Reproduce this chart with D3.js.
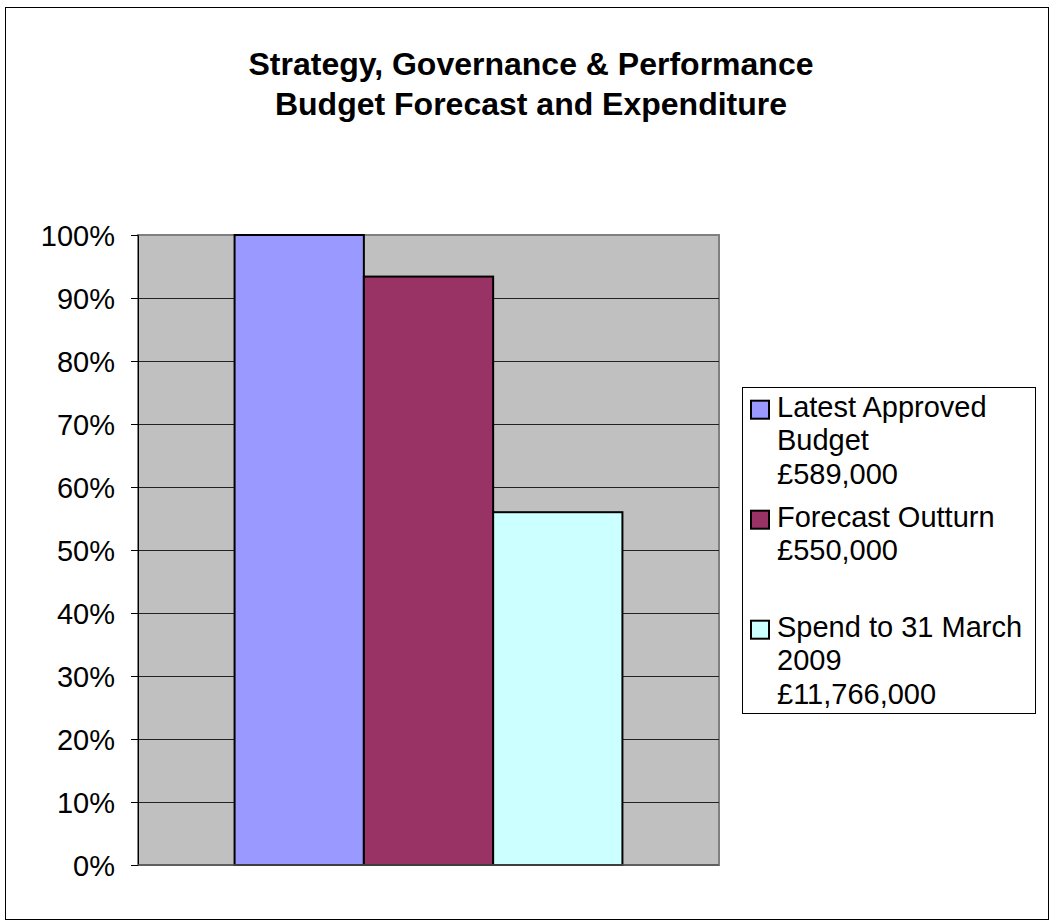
<!DOCTYPE html>
<html>
<head>
<meta charset="utf-8">
<script src="https://cdn.jsdelivr.net/npm/d3@7"></script>
<style>
  body { margin: 0; background: #fff; }
  svg text { font-family: "Liberation Sans", Arial, sans-serif; fill: #000; }
</style>
</head>
<body>
<svg id="chart" width="1053" height="922"></svg>
<script>
// chart data
var titleLines = ['Strategy, Governance & Performance', 'Budget Forecast and Expenditure'];
var categories = ['Budget'];
var seriesNames = [
  ['Latest Approved', 'Budget', '£589,000'],
  ['Forecast Outturn', '£550,000', ''],
  ['Spend to 31 March', '2009', '£11,766,000']
];
var seriesValues = [1.00, 0.934, 0.56];
var seriesColors = ['#9999ff', '#993366', '#ccffff'];
var yTicks = [0, 0.1, 0.2, 0.3, 0.4, 0.5, 0.6, 0.7, 0.8, 0.9, 1.0];

var svg = d3.select('#chart');

// outer frame
svg.append('rect')
  .attr('x', 5.5).attr('y', 7.5)
  .attr('width', 1043).attr('height', 912)
  .style('fill', '#fff').style('stroke', '#000').style('stroke-width', 1);

// title
svg.append('text')
  .attr('text-anchor', 'middle')
  .style('font-size', '32px').style('font-weight', 'bold')
  .selectAll('tspan')
  .data(titleLines)
  .enter().append('tspan')
  .attr('x', 531)
  .attr('y', function(d, i) { return 75 + i * 40; })
  .text(function(d) { return d; });

var plot = { left: 138, top: 235, right: 719, bottom: 865 };

var x = d3.scaleBand()
  .domain(categories)
  .range([plot.left, plot.right])
  .paddingOuter(0.249)
  .paddingInner(0);

var xs = d3.scaleBand()
  .domain(d3.range(seriesValues.length))
  .range([0, x.bandwidth()])
  .padding(0);

var y = d3.scaleLinear()
  .domain([0, 1])
  .range([plot.bottom, plot.top]);

// plot background
svg.append('rect')
  .attr('x', plot.left).attr('y', plot.top)
  .attr('width', plot.right - plot.left)
  .attr('height', plot.bottom - plot.top)
  .style('fill', '#c0c0c0')
  .style('stroke', '#808080')
  .style('stroke-width', 2);

// gridlines
svg.append('g')
  .selectAll('line')
  .data(yTicks.filter(function(d) { return d > 0 && d < 1; }))
  .enter().append('line')
  .attr('x1', plot.left).attr('x2', plot.right)
  .attr('y1', function(d) { return Math.round(y(d)) + 0.5; })
  .attr('y2', function(d) { return Math.round(y(d)) + 0.5; })
  .style('stroke', '#222')
  .style('stroke-width', 1);

// y axis
var yAxis = svg.append('g')
  .attr('transform', 'translate(' + plot.left + ',0)')
  .call(d3.axisLeft(y)
    .tickValues(yTicks)
    .tickFormat(d3.format('.0%'))
    .tickSize(7)
    .tickPadding(16));
yAxis.select('.domain').style('stroke', '#000');
yAxis.selectAll('.tick line').style('stroke', '#000');
yAxis.selectAll('.tick text')
  .style('font-size', '29px')
  .style('font-family', '"Liberation Sans", Arial, sans-serif')
  .attr('dy', '0.36em');

// bars
svg.append('g')
  .selectAll('rect')
  .data(seriesValues)
  .enter().append('rect')
  .attr('x', function(d, i) { return x(categories[0]) + xs(i); })
  .attr('y', function(d) { return y(d); })
  .attr('width', xs.bandwidth())
  .attr('height', function(d) { return y(0) - y(d); })
  .style('fill', function(d, i) { return seriesColors[i]; })
  .style('stroke', '#000')
  .style('stroke-width', 2);

// x axis line
svg.append('line')
  .attr('x1', plot.left).attr('x2', plot.right)
  .attr('y1', plot.bottom).attr('y2', plot.bottom)
  .style('stroke', '#555').style('stroke-width', 1.5);

// legend
var legend = svg.append('g');
legend.append('rect')
  .attr('x', 742.5).attr('y', 387.5)
  .attr('width', 293).attr('height', 326)
  .style('fill', '#fff').style('stroke', '#000').style('stroke-width', 1);

var entry = legend.selectAll('g.entry')
  .data(seriesNames)
  .enter().append('g')
  .attr('class', 'entry')
  .attr('transform', function(d, i) { return 'translate(0,' + (416.7 + i * 110) + ')'; });

entry.append('rect')
  .attr('x', 751).attr('y', -16)
  .attr('width', 18).attr('height', 18)
  .style('fill', function(d, i) { return seriesColors[i]; })
  .style('stroke', '#000').style('stroke-width', 2);

entry.append('text')
  .style('font-size', '29px')
  .selectAll('tspan')
  .data(function(d) { return d; })
  .enter().append('tspan')
  .attr('x', 777)
  .attr('y', function(d, i) { return i * 33.5; })
  .text(function(d) { return d; });
</script>
</body>
</html>
